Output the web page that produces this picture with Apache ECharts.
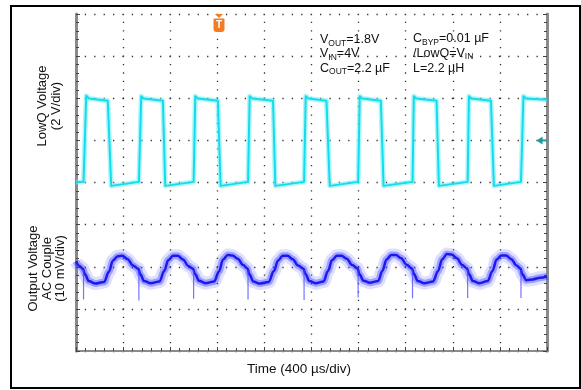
<!DOCTYPE html>
<html>
<head>
<meta charset="utf-8">
<script src="https://cdn.jsdelivr.net/npm/echarts@6/dist/echarts.min.js"></script>
<style>
  html, body { margin: 0; padding: 0; background: #fff; }
  #chart { width: 581px; height: 390px; }
</style>
</head>
<body>
<div id="chart"></div>
<script>
// time axis: 10 div x 400 us
const timeMin = 0, timeMax = 4000, timeDiv = 400
// channel 1 (LowQ voltage), 2 V/div
const ch1Min = -8, ch1Max = 8, ch1Div = 2
// channel 2 (output voltage, AC couple), 10 mV/div
const ch2Min = -20, ch2Max = 60, ch2Div = 10

// LowQ square wave, corners (us, V)
const lowqTime = [0, 64, 87, 110, 270, 299,
  534, 554, 575, 738, 758,
  999, 1013, 1035, 1205, 1228,
  1461, 1475, 1497, 1673, 1693,
  1937, 1951, 1973, 2127, 2155,
  2396, 2410, 2432, 2589, 2612,
  2858, 2869, 2891, 3062, 3082,
  3326, 3337, 3359, 3524, 3549,
  3779, 3800, 3822, 4000]
const lowqVolt = [0.02, 0.03, 4.12, 3.99, 3.88, -0.16,
  0.03, 4.1, 3.99, 3.88, -0.16,
  0.03, 4.1, 3.99, 3.88, -0.16,
  0.03, 4.1, 3.99, 3.88, -0.16,
  0.03, 4.1, 3.99, 3.88, -0.16,
  0.03, 4.1, 3.99, 3.88, -0.16,
  0.03, 4.1, 3.99, 3.88, -0.16,
  0.03, 4.1, 3.99, 3.88, -0.16,
  0.03, 4.1, 3.99, 3.93]

// output ripple band (us, mV)
const outTime = [0, 30, 59,
  76, 109, 164, 239, 279, 314, 354, 394, 439, 484, 529,
  546, 579, 634, 709, 749, 784, 824, 864, 909, 954, 994,
  1011, 1044, 1099, 1174, 1214, 1249, 1289, 1329, 1374, 1419, 1456,
  1473, 1506, 1561, 1636, 1681, 1716, 1756, 1796, 1841, 1886, 1932,
  1949, 1982, 2037, 2102, 2140, 2175, 2215, 2255, 2300, 2345, 2391,
  2408, 2441, 2496, 2566, 2602, 2637, 2677, 2717, 2762, 2807, 2853,
  2870, 2903, 2958, 3033, 3075, 3110, 3150, 3190, 3235, 3280, 3321,
  3338, 3371, 3426, 3496, 3537, 3572, 3612, 3652, 3697, 3742, 3774,
  3791, 3824, 3879, 3940, 4000]
const outMv = [1.3, 0.2, -0.5,
  -1.8, -3.4, -4.0, -3.6, -1.2, 1.5, 2.5, 2.6, 1.8, 0.3, -0.5,
  -1.8, -3.4, -3.9, -3.5, -1.0, 1.6, 2.6, 2.6, 1.7, 0.2, -0.5,
  -1.7, -3.3, -3.9, -3.5, -1.1, 1.7, 2.8, 2.7, 1.9, 0.4, -0.4,
  -1.8, -3.5, -4.0, -3.6, -1.0, 1.5, 2.6, 2.6, 1.8, 0.3, -0.5,
  -1.7, -3.4, -3.9, -3.5, -1.0, 1.6, 2.6, 2.6, 1.9, 0.4, -0.4,
  -1.8, -3.3, -3.8, -3.4, -1.0, 1.7, 2.8, 2.8, 2.0, 0.5, -0.4,
  -1.7, -3.4, -3.9, -3.5, -1.0, 1.8, 3.0, 2.9, 2.0, 0.4, -0.4,
  -1.8, -3.4, -3.9, -3.4, -1.0, 1.7, 2.7, 2.7, 1.8, 0.3, -0.4,
  -1.8, -3.2, -3.0, -2.6, -2.3]

// switching spikes on the output (us, mV from band to tip)
const spikeTime = [64, 534, 999, 1461, 1937, 2396, 2858, 3326, 3779]
const spikeFrom = [-0.8, -0.9, -0.8, -0.9, -0.8, -0.8, -0.8, -0.8, -0.8]
const spikeTip = [-7.8, -8.0, -7.6, -7.8, -7.9, -7.3, -7.5, -7.4, -7.4]

const font = 'Liberation Sans, Arial, Helvetica, sans-serif'
const zip = (a, b) => a.map((v, i) => [v, b[i]])
const lowqData = zip(lowqTime, lowqVolt)
const outData = zip(outTime, outMv)
const spikeData = []
spikeTime.forEach((t, i) => {
  spikeData.push([t, spikeFrom[i]], [t, spikeTip[i]], '-')
})

const chart = echarts.init(document.getElementById('chart'))

const borderAxis = {
  axisLine: { show: true, onZero: false, lineStyle: { color: '#8a8a8a', width: 3 } },
  axisTick: { show: true, inside: true, length: 4, lineStyle: { color: '#444', width: 1 } },
  minorTick: { show: true, splitNumber: 5, length: 3, lineStyle: { color: '#444', width: 1 } },
  axisLabel: { show: false }
}

const lineSeries = (name, data, yIdx, color, width, smooth) => ({
  name: name,
  type: 'line',
  yAxisIndex: yIdx,
  data: data,
  showSymbol: false,
  silent: true,
  smooth: smooth || false,
  smoothMonotone: 'x',
  connectNulls: false,
  lineStyle: { color: color, width: width, join: 'round' },
  z: 3
})

const option = {
  animation: false,
  backgroundColor: '#fff',
  grid: { left: 76, right: 34, top: 14, bottom: 39 },
  xAxis: {
    type: 'value',
    min: timeMin,
    max: timeMax,
    interval: timeDiv,
    ...borderAxis,
    axisLine: { show: true, onZero: false, lineStyle: { color: '#8a8a8a', width: 2 } },
    splitLine: {
      show: true,
      lineStyle: { color: '#333', width: 1.3, type: [1.3, 7.125], dashOffset: 0.65 }
    }
  },
  yAxis: [
    {
      type: 'value',
      min: ch1Min,
      max: ch1Max,
      interval: ch1Div,
      position: 'left',
      ...borderAxis,
      splitLine: {
        show: true,
        lineStyle: { color: '#333', width: 1.3, type: [1.3, 8.11], dashOffset: 0.65 }
      }
    },
    {
      type: 'value',
      min: ch2Min,
      max: ch2Max,
      interval: ch2Div,
      show: false
    },
    {
      type: 'value',
      min: ch1Min,
      max: ch1Max,
      interval: ch1Div,
      position: 'right',
      ...borderAxis,
      splitLine: { show: false }
    }
  ],
  series: [
    lineSeries('LowQ halo', lowqData, 0, 'rgba(110,238,246,0.55)', 5),
    lineSeries('LowQ Voltage', lowqData, 0, '#14dcec', 2),
    lineSeries('Output halo', outData, 1, 'rgba(110,110,255,0.22)', 13, 0.35),
    lineSeries('Output mid', outData, 1, 'rgba(40,40,255,0.35)', 7, 0.35),
    lineSeries('Output Voltage', outData, 1, '#1a1af0', 2.5, 0.35),
    lineSeries('Output spikes', spikeData, 1, 'rgba(70,70,255,0.75)', 1.2)
  ],
  graphic: [
    // outer frame
    { type: 'rect', shape: { x: 11, y: 6, width: 569, height: 382 },
      style: { fill: 'none', stroke: '#000', lineWidth: 2 }, z: 10 },
    // y names
    { type: 'text', x: 49.5, y: 106, rotation: Math.PI / 2,
      style: { text: 'LowQ Voltage\n(2 V/div)', font: '13px ' + font, fill: '#111',
        align: 'center', verticalAlign: 'middle', lineHeight: 13.5 } },
    { type: 'text', x: 47, y: 268.5, rotation: Math.PI / 2,
      style: { text: 'Output Voltage\nAC Couple\n(10 mV/div)', font: '13px ' + font, fill: '#111',
        align: 'center', verticalAlign: 'middle', lineHeight: 13.5 } },
    // x name
    { type: 'text', x: 299, y: 369,
      style: { text: 'Time (400 µs/div)', font: '13.5px ' + font, fill: '#111',
        align: 'center', verticalAlign: 'middle' } },
    // conditions
    ...[
      [320, 40, '{n|V}{s|OUT}{n|=1.8V}'],
      [320, 54, '{n|V}{s|IN}{n|=4V}'],
      [320, 68.3, '{n|C}{s|OUT}{n|=2.2 µF}'],
      [413, 39, '{n|C}{s|BYP}{n|=0.01 µF}'],
      [413, 53.5, '{n|/LowQ=V}{s|IN}'],
      [413, 68.5, '{n|L=2.2 µH}']
    ].map(([x, y, t]) => ({
      type: 'text', x: x, y: y, z: 5,
      style: {
        text: t, align: 'left', verticalAlign: 'middle',
        rich: {
          n: { fontSize: 12.5, fontFamily: font, fill: '#111', lineHeight: 16 },
          s: { fontSize: 8.5, fontFamily: font, fill: '#111', lineHeight: 10, verticalAlign: 'bottom' }
        }
      }
    })),
    // trigger position marker
    { type: 'polygon', shape: { points: [[215, 14], [223, 14], [219, 18]] },
      style: { fill: '#f27c22' }, z: 6 },
    { type: 'rect', shape: { x: 213.5, y: 18.5, width: 11, height: 13.5, r: [1, 1, 3, 3] },
      style: { fill: '#f27c22' }, z: 6 },
    { type: 'text', x: 219, y: 25.5, z: 7,
      style: { text: 'T', font: 'bold 10px ' + font, fill: '#fff', align: 'center', verticalAlign: 'middle' } },
    // trigger level marker
    { type: 'polygon', shape: { points: [[536.5, 140.4], [542.5, 136.4], [542.5, 144.4]] },
      style: { fill: '#189c9c' }, z: 6 },
    { type: 'line', shape: { x1: 542, y1: 140.4, x2: 547, y2: 140.4 },
      style: { stroke: '#189c9c', lineWidth: 2 }, z: 6 }
  ]
}

chart.setOption(option)
</script>
</body>
</html>
